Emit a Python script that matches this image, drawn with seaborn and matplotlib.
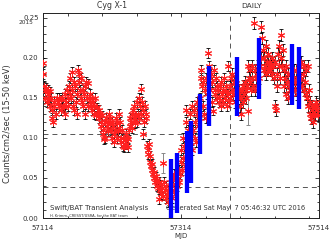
import matplotlib
matplotlib.use("Agg")
import matplotlib.pyplot as plt
from matplotlib.ticker import MultipleLocator, FixedLocator
import seaborn as sns
import pandas as pd

# ---------------- data ----------------
mjd_2015 = [57114, 57115, 57116, 57117, 57118, 57119, 57120, 57121, 57122, 57123, 57124, 57125, 57126, 57127, 57128,
            57129, 57130, 57131, 57133, 57134, 57136, 57137, 57138, 57140, 57141, 57142, 57143, 57145, 57146, 57147,
            57148, 57149, 57150, 57151, 57152, 57153, 57154, 57155, 57156, 57157, 57158, 57159, 57160, 57161, 57162,
            57163, 57164, 57165, 57166, 57167, 57168, 57169, 57170, 57171, 57172, 57173, 57174, 57175, 57176, 57177,
            57178, 57179, 57180, 57181, 57182, 57183, 57184, 57185, 57186, 57187, 57188, 57189, 57190, 57191, 57192,
            57194, 57195, 57196, 57197, 57198, 57199, 57200, 57201, 57202, 57203, 57204, 57205, 57206, 57207, 57208,
            57209, 57210, 57211, 57212, 57213, 57214, 57215, 57216, 57217, 57218, 57219, 57220, 57221, 57222, 57223,
            57224, 57225, 57226, 57227, 57228, 57229, 57230, 57231, 57232, 57233, 57234, 57235, 57236, 57237, 57238,
            57239, 57240, 57241, 57242, 57243, 57244, 57245, 57246, 57247, 57248, 57249, 57250, 57251, 57252, 57253,
            57254, 57255, 57256, 57257, 57258, 57259, 57260, 57261, 57262, 57263, 57264, 57265, 57266, 57267, 57268,
            57269, 57270, 57271, 57272, 57273, 57274, 57275, 57276, 57277, 57278, 57279, 57280, 57281, 57282, 57283,
            57284, 57285, 57286, 57287, 57289, 57290, 57291, 57292, 57293, 57294, 57295, 57296, 57297, 57299, 57300,
            57301, 57302, 57303, 57304, 57305, 57306, 57307, 57309, 57310, 57311, 57312, 57313, 57314, 57315, 57316,
            57317, 57318, 57319, 57320, 57321, 57322, 57323, 57324, 57325, 57326, 57327, 57328, 57329, 57330, 57331,
            57332, 57333, 57334, 57335, 57336, 57337, 57338, 57339, 57340, 57341, 57342, 57343, 57344, 57345, 57346,
            57347, 57348, 57349, 57350, 57351, 57352, 57353, 57354, 57355, 57356, 57357, 57358, 57359, 57360, 57361,
            57362, 57363, 57364, 57365, 57366, 57367, 57368, 57369, 57370, 57371, 57372, 57373, 57374, 57375, 57376,
            57377, 57378, 57379, 57380, 57381, 57382, 57383, 57384, 57385, 57386, 57387]
rate_2015 = [0.180, 0.194, 0.165, 0.158, 0.150, 0.162, 0.145, 0.155, 0.160, 0.148, 0.158, 0.140, 0.150, 0.135, 0.125,
             0.120, 0.145, 0.140, 0.130, 0.150, 0.145, 0.140, 0.150, 0.148, 0.135, 0.150, 0.140, 0.138, 0.155, 0.130,
             0.145, 0.160, 0.140, 0.150, 0.165, 0.155, 0.175, 0.150, 0.182, 0.160, 0.140, 0.170, 0.135, 0.165, 0.145,
             0.155, 0.130, 0.185, 0.170, 0.180, 0.160, 0.150, 0.175, 0.145, 0.160, 0.140, 0.155, 0.130, 0.165, 0.170,
             0.150, 0.140, 0.168, 0.150, 0.145, 0.155, 0.140, 0.150, 0.135, 0.145, 0.130, 0.140, 0.150, 0.128, 0.138,
             0.130, 0.135, 0.125, 0.130, 0.120, 0.115, 0.128, 0.105, 0.110, 0.098, 0.120, 0.100, 0.125, 0.115, 0.108,
             0.120, 0.130, 0.118, 0.125, 0.110, 0.120, 0.100, 0.115, 0.105, 0.095, 0.110, 0.125, 0.100, 0.118, 0.108,
             0.130, 0.112, 0.120, 0.100, 0.095, 0.110, 0.090, 0.100, 0.088, 0.097, 0.105, 0.092, 0.100, 0.088, 0.098,
             0.110, 0.115, 0.125, 0.120, 0.130, 0.112, 0.135, 0.125, 0.140, 0.118, 0.128, 0.145, 0.120, 0.130, 0.150,
             0.125, 0.140, 0.130, 0.161, 0.145, 0.105, 0.135, 0.120, 0.140, 0.125, 0.130, 0.090, 0.085, 0.080, 0.092,
             0.078, 0.070, 0.065, 0.060, 0.068, 0.055, 0.050, 0.058, 0.045, 0.052, 0.040, 0.048, 0.038, 0.045, 0.024,
             0.035, 0.042, 0.030, 0.038, 0.028, 0.045, 0.035, 0.025, 0.040, 0.030, 0.020, 0.035, 0.028, 0.030, 0.045,
             0.025, 0.040, 0.050, 0.035, 0.055, 0.030, 0.045, 0.040, 0.050, 0.060, 0.045, 0.055, 0.070, 0.085, 0.060,
             0.100, 0.075, 0.090, 0.065, 0.120, 0.135, 0.080, 0.100, 0.110, 0.095, 0.130, 0.090, 0.105, 0.140, 0.085,
             0.110, 0.135, 0.100, 0.120, 0.095, 0.130, 0.145, 0.115, 0.140, 0.125, 0.150, 0.175, 0.185, 0.165, 0.140,
             0.170, 0.130, 0.160, 0.125, 0.175, 0.155, 0.206, 0.165, 0.190, 0.175, 0.160, 0.180, 0.145, 0.170, 0.134,
             0.185, 0.160, 0.155, 0.175, 0.165, 0.150, 0.160, 0.145, 0.150, 0.165, 0.140, 0.170, 0.155, 0.160, 0.145,
             0.175, 0.150, 0.158, 0.165, 0.140, 0.155, 0.190, 0.145, 0.165, 0.150, 0.175]

mjd_2016 = [57388, 57389, 57390, 57391, 57392, 57393, 57394, 57396, 57397, 57398, 57399, 57400, 57401, 57402, 57403,
            57404, 57405, 57406, 57407, 57408, 57409, 57410, 57412, 57413, 57414, 57415, 57416, 57417, 57418, 57419,
            57420, 57421, 57422, 57423, 57424, 57425, 57426, 57428, 57429, 57430, 57431, 57432, 57433, 57434, 57435,
            57436, 57437, 57438, 57439, 57440, 57441, 57442, 57443, 57444, 57445, 57446, 57447, 57448, 57449, 57450,
            57451, 57452, 57453, 57454, 57455, 57456, 57457, 57458, 57459, 57460, 57461, 57462, 57463, 57464, 57465,
            57466, 57467, 57468, 57469, 57470, 57471, 57472, 57473, 57474, 57475, 57477, 57478, 57479, 57480, 57481,
            57482, 57483, 57484, 57485, 57487, 57488, 57489, 57490, 57491, 57492, 57493, 57494, 57495, 57496, 57497,
            57498, 57499, 57500, 57501, 57502, 57503, 57504, 57505, 57506, 57507, 57508, 57509, 57510, 57511, 57512,
            57513]
rate_2016 = [0.160, 0.180, 0.155, 0.170, 0.160, 0.145, 0.168, 0.155, 0.150, 0.160, 0.155, 0.140, 0.150, 0.130, 0.160,
             0.165, 0.145, 0.155, 0.170, 0.160, 0.150, 0.165, 0.190, 0.175, 0.185, 0.170, 0.160, 0.190, 0.175, 0.165,
             0.243, 0.185, 0.160, 0.175, 0.165, 0.180, 0.190, 0.175, 0.190, 0.238, 0.200, 0.225, 0.210, 0.185, 0.200,
             0.190, 0.215, 0.180, 0.195, 0.205, 0.185, 0.190, 0.195, 0.185, 0.190, 0.200, 0.180, 0.190, 0.175, 0.195,
             0.140, 0.135, 0.180, 0.165, 0.205, 0.190, 0.215, 0.175, 0.200, 0.228, 0.190, 0.210, 0.165, 0.185, 0.175,
             0.155, 0.190, 0.170, 0.150, 0.180, 0.165, 0.170, 0.160, 0.180, 0.165, 0.175, 0.185, 0.160, 0.170, 0.185,
             0.155, 0.175, 0.165, 0.190, 0.190, 0.175, 0.195, 0.165, 0.180, 0.190, 0.160, 0.170, 0.185, 0.155, 0.150,
             0.190, 0.140, 0.160, 0.130, 0.145, 0.125, 0.135, 0.140, 0.120, 0.128, 0.138, 0.130, 0.145, 0.135, 0.140,
             0.128]
err_2015 = 0.006
err_2016 = 0.0075

# points with large (grey) error bars
grey_mjd = [57288, 57411]
grey_rate = [0.069, 0.134]
grey_err = [0.0125, 0.018]

# wide-error points drawn as thick blue bars
blue_mjd = [57299.5, 57308, 57322.5, 57328.5, 57342.5, 57354.5, 57395, 57427, 57476, 57486]
blue_rate = [0.036, 0.0435, 0.070, 0.0825, 0.1175, 0.1525, 0.164, 0.187, 0.179, 0.175]
blue_err = [0.038, 0.0375, 0.039, 0.0385, 0.0375, 0.0375, 0.037, 0.038, 0.038, 0.039]

quiescent_levels = [0.105, 0.0385]
year_start_mjd = 57386
x_range = [57114, 57514]
y_range = [0.0, 0.2555]
x_labels = ["57114", "57314", "57514"]

# ---------------- figure ----------------
sns.set_theme(style="ticks")
plt.rcParams["font.family"] = ["DejaVu Sans"]
TXT = "#333333"

W, H = 332, 249
fig = plt.figure(figsize=(W / 100, H / 100), dpi=100)
L, R, T, B = 42.7, 318.7, 13.3, 218.0
ax = fig.add_axes([L / W, 1 - B / H, (R - L) / W, (B - T) / H])

df15 = pd.DataFrame({"mjd": mjd_2015, "rate": rate_2015})
df16 = pd.DataFrame({"mjd": mjd_2016, "rate": rate_2016})
dfg = pd.DataFrame({"mjd": grey_mjd, "rate": grey_rate})
df = pd.concat([df15, df16, dfg], ignore_index=True)

# error bars
ax.errorbar(df15["mjd"], df15["rate"], yerr=err_2015, fmt="none", ecolor="black",
            elinewidth=0.6, capsize=1.3, capthick=0.6, zorder=2)
ax.errorbar(df16["mjd"], df16["rate"], yerr=err_2016, fmt="none", ecolor="black",
            elinewidth=0.6, capsize=1.3, capthick=0.6, zorder=2)
ax.errorbar(grey_mjd, grey_rate, yerr=grey_err, fmt="none", ecolor="#888888",
            elinewidth=0.7, capsize=1.3, capthick=0.7, zorder=2)

# red asterisk points
sns.scatterplot(data=df, x="mjd", y="rate", ax=ax, marker=(6, 2, 0), color="#ff2020",
                s=21, linewidth=0.75, legend=False, zorder=3)

# blue thick bars
ax.errorbar(blue_mjd, blue_rate, yerr=blue_err, fmt="none", ecolor="#0000ff",
            elinewidth=3.1, capsize=0, zorder=5)

# reference lines
for lv in quiescent_levels:
    ax.axhline(lv, color="#555555", lw=0.7, dashes=(5.1, 4.1), zorder=1)
ax.axvline(year_start_mjd, color="#555555", lw=0.7, dashes=(5.1, 4.1), zorder=1)

ax.set_xlim(*x_range)
ax.set_ylim(*y_range)
ax.xaxis.set_major_locator(FixedLocator([57114, 57314, 57514]))
ax.set_xticklabels(x_labels)
ax.xaxis.set_minor_locator(MultipleLocator(50))
ax.yaxis.set_major_locator(MultipleLocator(0.05))
ax.yaxis.set_minor_locator(MultipleLocator(0.01))
ax.yaxis.set_major_formatter(matplotlib.ticker.FormatStrFormatter("%.2f"))

ax.tick_params(which="both", direction="in", top=True, right=True, width=0.6, color="#222222",
               labelsize=5, labelcolor=TXT)
ax.tick_params(which="major", length=3.0)
ax.tick_params(which="minor", length=1.8)
ax.tick_params(axis="x", pad=5)
ax.tick_params(axis="y", pad=3)
for sp in ax.spines.values():
    sp.set_color("#222222")
    sp.set_linewidth(0.7)

ax.set_xlabel("MJD", fontsize=5, color=TXT)
ax.xaxis.set_label_coords(0.5, (B - 233) / (B - T))
ax.set_ylabel("Counts/cm2/sec (15-50 keV)", fontsize=6, color=TXT)
ax.yaxis.set_label_coords((12 - L) / (R - L), (B - 124) / (B - T))

# texts
fig.text(112 / W, 1 - 6 / H, "Cyg X-1", fontsize=5.6, color=TXT, ha="center", va="center")
fig.text(252 / W, 1 - 6 / H, "DAILY", fontsize=5.4, color=TXT, ha="center", va="center")
fig.text(26 / W, 1 - 22.5 / H, "2015", fontsize=4.2, color=TXT, ha="center", va="center")

ax.text((50 - L) / (R - L), (B - 208) / (B - T), "Swift/BAT Transient Analysis", transform=ax.transAxes,
        fontsize=5, color=TXT, ha="left", va="center", zorder=1)
ax.text((50 - L) / (R - L), (B - 215.5) / (B - T), "H. Krimm, CRESST/USRA, for the BAT team",
        transform=ax.transAxes, fontsize=2.6, color=TXT, ha="left", va="center", zorder=1)
ax.text((166 - L) / (R - L), (B - 208) / (B - T), "Generated Sat May  7 05:46:32 UTC 2016",
        transform=ax.transAxes, fontsize=4.8, color=TXT, ha="left", va="center", zorder=1)

fig.savefig("out.png", dpi=100)
